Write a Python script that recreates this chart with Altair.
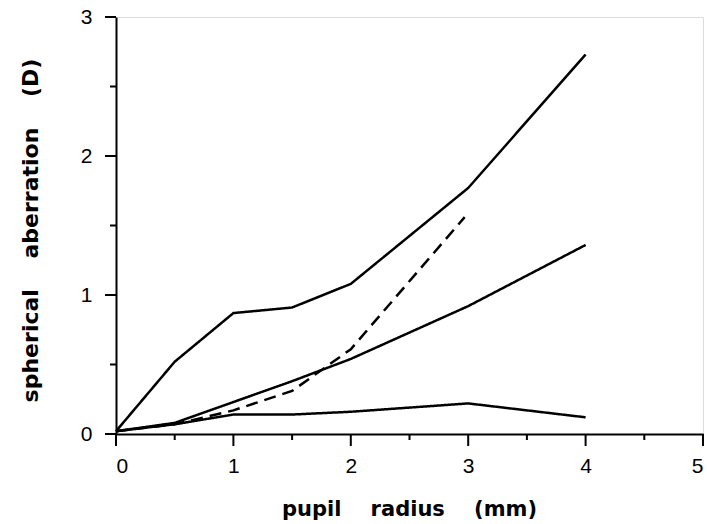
import altair as alt
import pandas as pd

x_top = [0, 0.5, 1, 1.5, 2, 3, 4]
y_top = [0.02, 0.52, 0.87, 0.91, 1.08, 1.77, 2.73]
x_mid = [0, 0.5, 1, 1.5, 2, 3, 4]
y_mid = [0.02, 0.08, 0.23, 0.38, 0.54, 0.92, 1.36]
x_low = [0, 0.5, 1, 1.5, 2, 3, 4]
y_low = [0.02, 0.07, 0.14, 0.14, 0.16, 0.22, 0.12]
x_dash = [0, 0.5, 1, 1.5, 2, 2.97]
y_dash = [0.02, 0.07, 0.17, 0.31, 0.61, 1.56]

x_major = [0, 1, 2, 3, 4, 5]
x_minor = [0.5, 1.5, 2.5, 3.5, 4.5]
y_major = [0, 1, 2, 3]
y_minor = [0.5, 1.5, 2.5]

rows = []
for name, xs, ys in [("a", x_top, y_top), ("b", x_mid, y_mid), ("c", x_low, y_low), ("d", x_dash, y_dash)]:
    for xv, yv in zip(xs, ys):
        rows.append({"series": name, "x": xv, "y": yv})
df = pd.DataFrame(rows)

W, H = 587, 417
FONT = "Liberation Sans"
TFONT = "DejaVu Sans"
NB = "\u00a0"
x_title = f"pupil{NB*4}radius{NB*4}(mm)"
y_title = f"spherical{NB*4}aberration{NB*4}(D)"

xscale = alt.Scale(domain=[0, 5], nice=False, zero=False)
yscale = alt.Scale(domain=[0, 3], nice=False, zero=False)

xaxis = alt.Axis(values=x_major, format="d", title=x_title, orient="bottom",
                 tickSize=12, tickOpacity=0, grid=False, domainColor="black", domainWidth=2,
                 labelFont=FONT, labelFontSize=21, labelColor="black", labelPadding=9,
                 titleFont=TFONT, titleFontSize=21, titleFontWeight="bold", titleColor="black",
                 titleX=293, titleY=81, titleBaseline="alphabetic", titleAlign="center")
yaxis = alt.Axis(values=y_major, format="d", title=y_title, orient="left",
                 tickSize=11, tickOpacity=0, grid=False, domainColor="black", domainWidth=2,
                 labelFont=FONT, labelFontSize=21, labelColor="black", labelPadding=13,
                 titleFont=TFONT, titleFontSize=22, titleFontWeight="bold", titleColor="black",
                 titleX=-79, titleY=213, titleBaseline="alphabetic", titleAlign="center",
                 titleAngle=270)

lines = alt.Chart(df).mark_line(color="black", strokeWidth=2.5, clip=False).encode(
    x=alt.X("x:Q", scale=xscale, axis=xaxis),
    y=alt.Y("y:Q", scale=yscale, axis=yaxis),
    detail="series:N",
    strokeDash=alt.StrokeDash("series:N",
                              scale=alt.Scale(domain=["a", "b", "c", "d"],
                                              range=[[1, 0], [1, 0], [1, 0], [12, 7]]),
                              legend=None),
)

def xticks(vals, length):
    return alt.Chart(pd.DataFrame({"x": vals})).mark_rule(color="black", strokeWidth=2, clip=False).encode(
        x=alt.X("x:Q", scale=xscale, axis=xaxis),
        y=alt.value(H), y2=alt.value(H + length),
    )

def yticks(vals, length):
    return alt.Chart(pd.DataFrame({"y": vals})).mark_rule(color="black", strokeWidth=2, clip=False).encode(
        y=alt.Y("y:Q", scale=yscale, axis=yaxis),
        x=alt.value(0), x2=alt.value(-length),
    )

chart = alt.layer(
    lines, xticks(x_major, 12), xticks(x_minor, 6), yticks(y_major, 11), yticks(y_minor, 6)
).properties(
    width=W, height=H,
    autosize=alt.AutoSizeParams(type="none"),
    padding={"left": 116, "top": 17, "right": 4, "bottom": 90},
).configure_view(stroke=None).configure(background="white")

chart.save("out.html", embed_options={"renderer": "svg", "actions": False})
